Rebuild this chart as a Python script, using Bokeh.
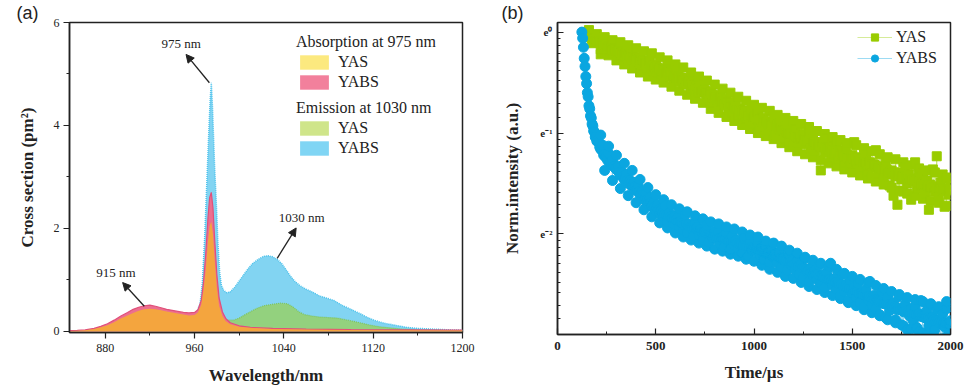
import numpy as np
from bokeh.plotting import figure
from bokeh.layouts import row
from bokeh.models import (Range1d, SingleIntervalTicker, FixedTicker, CustomJSTickFormatter,
                          Legend, LegendItem, Label, Arrow, NormalHead)
from bokeh.embed import file_html
from bokeh.resources import INLINE

SERIF = "Liberation Serif"
SANS = "Liberation Sans"
INK = "#222222"

# ---------------- panel (a): cross sections (pm^2) ----------------
abs_yabs_wl = [848, 855, 862, 870, 876, 882, 888, 894, 900, 905, 910, 915, 920, 925, 930, 935, 940, 945,
               950, 955, 960, 963, 966, 968, 970, 972, 973.5, 975, 976.5, 978, 980, 982, 985, 988, 992,
               1000, 1010, 1030, 1060, 1100, 1150, 1200]
abs_yabs = [0.015, 0.02, 0.03, 0.06, 0.10, 0.15, 0.22, 0.30, 0.37, 0.43, 0.47, 0.50, 0.51, 0.49, 0.46, 0.43,
            0.41, 0.39, 0.37, 0.36, 0.37, 0.42, 0.60, 0.95, 1.50, 2.20, 2.60, 2.70, 2.40, 1.80, 1.10, 0.65,
            0.38, 0.25, 0.17, 0.11, 0.08, 0.06, 0.045, 0.035, 0.03, 0.025]
abs_yas_wl = abs_yabs_wl
abs_yas = [0.01, 0.015, 0.025, 0.05, 0.08, 0.12, 0.18, 0.25, 0.31, 0.36, 0.40, 0.43, 0.44, 0.43, 0.41, 0.39,
           0.37, 0.35, 0.33, 0.31, 0.32, 0.37, 0.52, 0.80, 1.20, 1.75, 2.05, 2.13, 1.90, 1.40, 0.85, 0.50,
           0.30, 0.20, 0.14, 0.09, 0.07, 0.05, 0.04, 0.03, 0.025, 0.02]
em_yabs_wl = [918, 930, 940, 950, 958, 962, 965, 967, 969, 971, 973, 974, 975, 976, 977, 978, 979.5, 981,
              982.5, 984, 986, 989, 992, 996, 1000, 1004, 1008, 1012, 1017, 1022, 1026, 1030, 1034, 1038,
              1042, 1046, 1050, 1055, 1060, 1066, 1072, 1078, 1085, 1092, 1100, 1108, 1115, 1122, 1130,
              1140, 1150, 1160, 1170, 1180, 1190, 1200]
em_yabs = [0.03, 0.07, 0.11, 0.17, 0.26, 0.36, 0.55, 0.95, 1.80, 2.90, 4.00, 4.50, 4.83, 4.40, 3.80, 3.20,
           2.50, 1.70, 1.15, 0.90, 0.80, 0.75, 0.77, 0.86, 0.98, 1.10, 1.22, 1.32, 1.40, 1.46, 1.47, 1.45,
           1.40, 1.32, 1.20, 1.07, 0.97, 0.88, 0.82, 0.76, 0.69, 0.65, 0.60, 0.51, 0.43, 0.35, 0.27, 0.21,
           0.16, 0.12, 0.08, 0.06, 0.05, 0.04, 0.03, 0.025]
em_yas_wl = [918, 930, 940, 950, 958, 963, 966, 969, 972, 975, 978, 981, 985, 990, 995, 1000, 1008, 1015,
             1022, 1030, 1037, 1043, 1048, 1053, 1058, 1065, 1072, 1080, 1088, 1095, 1102, 1110, 1118, 1126,
             1135, 1145, 1160, 1180, 1200]
em_yas = [0.02, 0.05, 0.08, 0.12, 0.18, 0.26, 0.40, 0.70, 1.00, 1.10, 0.80, 0.45, 0.28, 0.22, 0.22, 0.26,
          0.36, 0.44, 0.50, 0.53, 0.55, 0.54, 0.48, 0.39, 0.33, 0.30, 0.28, 0.27, 0.26, 0.23, 0.20, 0.16,
          0.12, 0.09, 0.07, 0.05, 0.03, 0.02, 0.015]

# ---------------- panel (b): decay curves, ln(normalised intensity) ----------------
yas_t = list(range(150, 2001, 10))
yas_ln = [0.00, -0.03, -0.05, -0.04, -0.09, -0.07, -0.10, -0.22, -0.11, -0.13,
          -0.12, -0.17, -0.15, -0.19, -0.16, -0.21, -0.18, -0.23, -0.20, -0.24,
          -0.21, -0.26, -0.24, -0.22, -0.29, -0.25, -0.30, -0.27, -0.33, -0.28,
          -0.31, -0.36, -0.29, -0.35, -0.39, -0.33, -0.40, -0.36, -0.42, -0.37,
          -0.41, -0.36, -0.44, -0.40, -0.47, -0.43, -0.38, -0.49, -0.45, -0.51,
          -0.46, -0.52, -0.49, -0.56, -0.50, -0.58, -0.53, -0.60, -0.55, -0.52,
          -0.58, -0.63, -0.66, -0.59, -0.70, -0.62, -0.67, -0.73, -0.64, -0.69,
          -0.72, -0.66, -0.76, -0.71, -0.80, -0.74, -0.69, -0.83, -0.77, -0.81,
          -0.78, -0.86, -0.82, -0.88, -0.76, -0.91, -0.84, -0.80, -0.93, -0.87,
          -0.85, -0.94, -0.89, -0.98, -0.91, -0.84, -1.01, -0.95, -0.90, -1.03,
          -0.97, -1.05, -0.93, -1.08, -1.00, -1.12, -0.96, -1.04, -1.10, -1.01,
          -1.02, -1.11, -1.07, -0.99, -1.15, -1.06, -1.18, -1.09, -1.13, -1.37,
          -1.10, -1.19, -1.05, -1.16, -1.24, -1.12, -1.21, -1.08, -1.26, -1.17,
          -1.20, -1.29, -1.14, -1.25, -1.33, -1.22, -1.09, -1.30, -1.24, -1.36,
          -1.26, -1.34, -1.21, -1.38, -1.29, -1.44, -1.31, -1.17, -1.40, -1.33,
          -1.35, -1.45, -1.28, -1.41, -1.52, -1.37, -1.62, -1.43, -1.71, -1.39,
          -1.46, -1.58, -1.34, -1.50, -1.41, -1.66, -1.47, -1.29, -1.55, -1.44,
          -1.52, -1.40, -1.60, -1.47, -1.76, -1.54, -1.36, -1.58, -1.23, -1.63,
          -1.49, -1.57, -1.73, -1.45, -1.61, -1.53]
yas_t2 = list(range(155, 1996, 10))
yas_ln2 = [-0.04, -0.05, -0.07, -0.06, -0.09, -0.10, -0.09, -0.12, -0.13, -0.12,
           -0.15, -0.14, -0.17, -0.18, -0.17, -0.20, -0.19, -0.21, -0.23, -0.22,
           -0.24, -0.23, -0.26, -0.25, -0.27, -0.28, -0.27, -0.30, -0.29, -0.31,
           -0.32, -0.31, -0.34, -0.33, -0.36, -0.35, -0.37, -0.36, -0.39, -0.38,
           -0.40, -0.39, -0.42, -0.43, -0.42, -0.45, -0.44, -0.47, -0.46, -0.48,
           -0.50, -0.49, -0.52, -0.53, -0.52, -0.55, -0.56, -0.55, -0.58, -0.57,
           -0.60, -0.61, -0.63, -0.62, -0.65, -0.64, -0.67, -0.66, -0.69, -0.68,
           -0.71, -0.70, -0.73, -0.74, -0.73, -0.76, -0.77, -0.76, -0.79, -0.78,
           -0.81, -0.80, -0.83, -0.82, -0.85, -0.84, -0.86, -0.87, -0.86, -0.89,
           -0.90, -0.89, -0.92, -0.91, -0.93, -0.94, -0.93, -0.96, -0.95, -0.97,
           -0.98, -0.99, -1.00, -1.01, -1.00, -1.03, -1.02, -1.04, -1.05, -1.04,
           -1.06, -1.07, -1.08, -1.07, -1.10, -1.09, -1.11, -1.12, -1.11, -1.14,
           -1.14, -1.15, -1.16, -1.15, -1.18, -1.17, -1.19, -1.20, -1.19, -1.22,
           -1.22, -1.23, -1.22, -1.25, -1.24, -1.26, -1.25, -1.27, -1.28, -1.27,
           -1.29, -1.30, -1.29, -1.32, -1.31, -1.33, -1.32, -1.34, -1.35, -1.34,
           -1.36, -1.37, -1.36, -1.39, -1.38, -1.40, -1.39, -1.41, -1.42, -1.41,
           -1.43, -1.44, -1.43, -1.46, -1.45, -1.47, -1.46, -1.48, -1.49, -1.48,
           -1.50, -1.51, -1.50, -1.52, -1.51, -1.53, -1.54, -1.53, -1.55, -1.54,
           -1.55, -1.56, -1.55, -1.57, -1.56]
yas_t3 = list(range(160, 2001, 20))
yas_ln3 = [0.02, -0.11, -0.02, -0.17, -0.05, -0.23, -0.08, -0.28,
           -0.10, -0.32, -0.13, -0.36, -0.16, -0.40, -0.19, -0.44, -0.21, -0.47,
           -0.25, -0.50, -0.28, -0.54, -0.32, -0.58, -0.35, -0.62, -0.40, -0.66,
           -0.44, -0.70, -0.48, -0.76, -0.52, -0.80, -0.56, -0.84, -0.60, -0.88,
           -0.64, -0.92, -0.68, -0.96, -0.72, -1.00, -0.75, -1.03, -0.78, -1.06,
           -0.82, -1.10, -0.85, -1.14, -0.88, -1.18, -0.91, -1.21, -0.94, -1.24,
           -0.98, -1.27, -1.01, -1.30, -1.04, -1.33, -1.07, -1.36, -1.10, -1.39,
           -1.12, -1.42, -1.15, -1.45, -1.18, -1.48, -1.21, -1.51, -1.24, -1.54,
           -1.26, -1.57, -1.29, -1.60, -1.32, -1.62, -1.35, -1.65, -1.37, -1.67,
           -1.39, -1.69, -1.41, -1.72, -1.44]
yabs_t = list(range(124, 201, 4)) + list(range(210, 2001, 10))
yabs_ln = [0.00, -0.06, -0.15, -0.26, -0.34, -0.44, -0.51, -0.60, -0.64, -0.73,
           -0.76, -0.83, -0.85, -0.91, -0.93, -0.98, -0.99, -1.04, -1.04, -1.08,
           -1.09, -1.16, -1.12, -1.21, -1.23, -1.20, -1.29, -1.27, -1.33, -1.35,
           -1.33, -1.42, -1.39, -1.46, -1.41, -1.50, -1.47, -1.53, -1.49, -1.57,
           -1.52, -1.61, -1.58, -1.66, -1.60, -1.70, -1.64, -1.73, -1.69, -1.77,
           -1.71, -1.80, -1.76, -1.83, -1.72, -1.88, -1.79, -1.85, -1.90, -1.82,
           -1.84, -1.93, -1.87, -1.96, -1.81, -1.99, -1.90, -1.94, -2.02, -1.89,
           -1.93, -2.01, -1.95, -2.06, -1.98, -1.91, -2.08, -2.00, -2.04, -1.97,
           -2.05, -1.98, -2.10, -2.03, -2.13, -1.99, -2.07, -2.15, -2.02, -2.11,
           -2.06, -2.14, -2.09, -2.19, -2.04, -2.12, -2.22, -2.08, -2.16, -2.13,
           -2.17, -2.10, -2.21, -2.14, -2.25, -2.12, -2.19, -2.28, -2.16, -2.23,
           -2.20, -2.29, -2.18, -2.33, -2.24, -2.27, -2.36, -2.21, -2.31, -2.26,
           -2.35, -2.27, -2.40, -2.30, -2.44, -2.24, -2.37, -2.47, -2.33, -2.41,
           -2.36, -2.45, -2.31, -2.49, -2.41, -2.53, -2.38, -2.46, -2.29, -2.51,
           -2.44, -2.55, -2.48, -2.61, -2.40, -2.57, -2.50, -2.66, -2.46, -2.59,
           -2.53, -2.63, -2.49, -2.68, -2.58, -2.72, -2.55, -2.65, -2.47, -2.70,
           -2.61, -2.74, -2.66, -2.80, -2.57, -2.69, -2.83, -2.63, -2.76, -2.71,
           -2.68, -2.85, -2.75, -2.62, -2.90, -2.77, -2.70, -2.95, -2.81, -2.74,
           -2.86, -2.72, -2.93, -2.79, -2.66, -2.98, -2.83, -2.76, -2.91, -2.69,
           -2.82, -2.95, -2.74, -2.88, -3.05, -2.79, -2.92, -2.67, -2.99, -2.86]
yabs_t2 = list(range(215, 1996, 10))
yabs_ln2 = [-1.14, -1.17, -1.22, -1.24, -1.27, -1.29, -1.31, -1.33, -1.35,
            -1.37, -1.39, -1.41, -1.43, -1.44, -1.47, -1.48, -1.49, -1.52, -1.53,
            -1.56, -1.58, -1.60, -1.61, -1.64, -1.66, -1.68, -1.69, -1.71, -1.73,
            -1.74, -1.76, -1.77, -1.79, -1.80, -1.81, -1.82, -1.83, -1.85, -1.85,
            -1.86, -1.88, -1.88, -1.89, -1.91, -1.90, -1.92, -1.93, -1.94, -1.94,
            -1.95, -1.97, -1.97, -1.98, -1.98, -1.99, -2.00, -2.00, -2.01, -2.02,
            -2.02, -2.03, -2.04, -2.04, -2.05, -2.05, -2.06, -2.07, -2.07, -2.08,
            -2.08, -2.09, -2.10, -2.10, -2.11, -2.11, -2.12, -2.13, -2.13, -2.14,
            -2.14, -2.15, -2.16, -2.17, -2.17, -2.18, -2.19, -2.19, -2.20, -2.21,
            -2.22, -2.23, -2.23, -2.24, -2.25, -2.26, -2.26, -2.27, -2.28, -2.29,
            -2.30, -2.31, -2.32, -2.32, -2.34, -2.34, -2.35, -2.36, -2.37, -2.38,
            -2.39, -2.40, -2.40, -2.42, -2.42, -2.43, -2.44, -2.45, -2.45, -2.46,
            -2.47, -2.48, -2.49, -2.50, -2.50, -2.52, -2.52, -2.53, -2.54, -2.55,
            -2.56, -2.57, -2.57, -2.59, -2.59, -2.60, -2.61, -2.62, -2.62, -2.63,
            -2.64, -2.65, -2.65, -2.67, -2.67, -2.68, -2.69, -2.69, -2.70, -2.71,
            -2.72, -2.72, -2.73, -2.74, -2.75, -2.75, -2.76, -2.76, -2.77, -2.78,
            -2.79, -2.79, -2.80, -2.80, -2.81, -2.82, -2.82, -2.83, -2.83, -2.84,
            -2.85, -2.85, -2.86, -2.86, -2.87, -2.87, -2.88, -2.88, -2.89, -2.89]
yabs_t3 = list(range(220, 2001, 20))
yabs_ln3 = [-1.02, -1.37, -1.13, -1.47, -1.22, -1.55, -1.30, -1.62, -1.37, -1.69,
            -1.46, -1.76, -1.54, -1.83, -1.61, -1.89, -1.66, -1.94, -1.71, -1.99,
            -1.75, -2.03, -1.78, -2.06, -1.82, -2.09, -1.85, -2.12, -1.88, -2.15,
            -1.90, -2.17, -1.93, -2.20, -1.95, -2.22, -1.98, -2.25, -2.01, -2.27,
            -2.03, -2.31, -2.07, -2.35, -2.09, -2.38, -2.12, -2.42, -2.16, -2.44,
            -2.19, -2.48, -2.23, -2.52, -2.26, -2.55, -2.29, -2.58, -2.32, -2.61,
            -2.35, -2.64, -2.39, -2.68, -2.42, -2.71, -2.45, -2.75, -2.48, -2.78,
            -2.51, -2.81, -2.54, -2.85, -2.57, -2.88, -2.60, -2.91, -2.63, -2.94,
            -2.65, -2.97, -2.67, -3.00, -2.70, -3.02, -2.72, -3.04, -2.74, -3.06]

C_BLUE_A = "#82D4F2"
C_GREEN_A = "#A3CD1F"
C_PINK_A = "#EC6E8F"
C_ORANGE_A = "#F4A83A"
LEG_YELLOW, LEG_PINK, LEG_GREEN, LEG_BLUE = "#FCE97F", "#F2809C", "#CFE58A", "#80D5F4"
C_GREEN_B = "#99CC00"
C_BLUE_B = "#0AA6E0"


def style_axes(p, bold_ticks, inside):
    for ax in (p.xaxis[0], p.yaxis[0]):
        ax.axis_line_color = INK
        ax.axis_line_width = 1.5
        ax.major_tick_line_color = INK
        ax.minor_tick_line_color = INK
        ax.major_tick_line_width = 1.2
        ax.minor_tick_line_width = 1.0
        if inside:
            ax.major_tick_in, ax.major_tick_out = 6, 0
            ax.minor_tick_in, ax.minor_tick_out = 3, 0
        else:
            ax.major_tick_in, ax.major_tick_out = 0, 6
            ax.minor_tick_in, ax.minor_tick_out = 0, 3
        ax.major_label_text_font = SERIF
        ax.major_label_text_font_size = "13px"
        ax.major_label_text_font_style = "bold" if bold_ticks else "normal"
        ax.major_label_text_color = INK
        ax.axis_label_text_font = SERIF
        ax.axis_label_text_font_size = "17px"
        ax.axis_label_text_font_style = "bold"
        ax.axis_label_text_color = INK
    p.grid.visible = False
    p.outline_line_color = INK
    p.outline_line_width = 1.5
    p.outline_line_alpha = 1.0


def style_title(p, offset):
    p.title.align = "left"
    p.title.offset = offset
    p.title.standoff = 0
    p.title.text_font = SANS
    p.title.text_font_size = "18px"
    p.title.text_font_style = "normal"
    p.title.text_color = INK


# ---------------- figure (a) ----------------
pa = figure(frame_width=393, frame_height=310, min_border_left=69, min_border_right=18,
            min_border_top=22, min_border_bottom=50, x_range=Range1d(848, 1200),
            y_range=Range1d(-0.02, 6), output_backend="svg", toolbar_location=None,
            title="(a)")
style_title(pa, -53)
style_axes(pa, False, False)
pa.xaxis.ticker = SingleIntervalTicker(interval=80, num_minor_ticks=2)
pa.yaxis.ticker = SingleIntervalTicker(interval=2, num_minor_ticks=2)
pa.xaxis.axis_label = "Wavelength/nm"
pa.yaxis.axis_label = "Cross section (pm\u00b2)"
pa.xaxis.major_label_standoff = 5
pa.yaxis.major_label_standoff = 4
pa.xaxis.axis_label_standoff = 11
pa.yaxis.axis_label_standoff = 14
pa.xaxis.major_label_text_font_size = "12px"
pa.yaxis.major_label_text_font_size = "12px"

pa.varea(x=em_yabs_wl, y1=0, y2=em_yabs, fill_color=C_BLUE_A)
pa.line(em_yabs_wl, em_yabs, line_color="#4CC2EC", line_width=1.5, line_dash="1 1")
pa.varea(x=em_yas_wl, y1=0, y2=em_yas, fill_color=C_GREEN_A, fill_alpha=0.55)
pa.line(em_yas_wl, em_yas, line_color="#7CC046", line_width=1.2, line_dash="1 1", line_alpha=0.8)
pa.varea(x=abs_yabs_wl, y1=0, y2=abs_yabs, fill_color=C_PINK_A)
pa.line(abs_yabs_wl, abs_yabs, line_color="#E0507A", line_width=1.2)
pa.varea(x=abs_yas_wl, y1=0, y2=abs_yas, fill_color=C_ORANGE_A, fill_alpha=0.95)

# legend-only swatches (one NaN point each, so nothing is drawn in the frame)
sw_y = pa.varea(x=[np.nan], y1=[np.nan], y2=[np.nan], fill_color=LEG_YELLOW)
sw_p = pa.varea(x=[np.nan], y1=[np.nan], y2=[np.nan], fill_color=LEG_PINK)
sw_g = pa.varea(x=[np.nan], y1=[np.nan], y2=[np.nan], fill_color=LEG_GREEN)
sw_b = pa.varea(x=[np.nan], y1=[np.nan], y2=[np.nan], fill_color=LEG_BLUE)


def make_legend(title, items, loc):
    lg = Legend(items=items, location=loc, title=title, orientation="vertical")
    lg.title_text_font = SERIF
    lg.title_text_font_size = "16px"
    lg.title_text_font_style = "normal"
    lg.title_text_color = INK
    lg.title_standoff = 2
    lg.label_text_font = SERIF
    lg.label_text_font_size = "16px"
    lg.label_text_color = INK
    lg.glyph_width = 36
    lg.glyph_height = 18
    lg.label_height = 18
    lg.label_standoff = 6
    lg.spacing = 2
    lg.padding = 0
    lg.margin = 0
    lg.border_line_alpha = 0
    lg.background_fill_alpha = 0
    return lg


pa.add_layout(make_legend("Absorption at 975 nm",
                          [LegendItem(label="YAS", renderers=[sw_y]),
                           LegendItem(label="YABS", renderers=[sw_p])], (227, 241)))
pa.add_layout(make_legend("Emission at 1030 nm",
                          [LegendItem(label="YAS", renderers=[sw_g]),
                           LegendItem(label="YABS", renderers=[sw_b])], (227, 175)))

for txt, tx, ty, x0, y0, x1, y1 in [("975 nm", 948, 5.59, 973.3, 4.83, 952.4, 5.38),
                                      ("1030 nm", 1056, 2.22, 1034, 1.42, 1051, 2.01),
                                      ("915 nm", 889.6, 1.14, 915, 0.49, 895.6, 0.95)]:
    pa.add_layout(Label(x=tx, y=ty, text=txt, text_align="center", text_baseline="middle",
                        text_font=SERIF, text_font_size="13px", text_color=INK))
    pa.add_layout(Arrow(x_start=x0, y_start=y0, x_end=x1, y_end=y1, line_width=1.3, line_color=INK,
                        end=NormalHead(size=8, fill_color=INK, line_color=INK)))

# ---------------- figure (b) ----------------
pb = figure(frame_width=393, frame_height=312, min_border_left=77, min_border_right=17,
            min_border_top=22, min_border_bottom=48, x_range=Range1d(0, 2000),
            y_range=Range1d(0.05, 1.1), y_axis_type="log", output_backend="svg",
            toolbar_location=None, title="(b)")
style_title(pb, -56)
style_axes(pb, True, True)
pb.xaxis.ticker = SingleIntervalTicker(interval=500, num_minor_ticks=2)
majors = [float(np.exp(k)) for k in (-2, -1, 0)]
minors = []
for k in (-3, -2, -1):
    lo, hi = np.exp(k), np.exp(k + 1)
    minors += [float(lo + i * (hi - lo) / 10) for i in range(1, 10)]
pb.yaxis.ticker = FixedTicker(ticks=majors, minor_ticks=minors)
pb.yaxis.formatter = CustomJSTickFormatter(code="""
const k = Math.round(Math.log(tick));
if (k === 0) { return 'e\u2070'; }
const sup = {'1': '\u00b9', '2': '\u00b2', '3': '\u00b3'};
return 'e\u207b' + sup[String(-k)];
""")
pb.yaxis.major_label_text_font_size = "11px"
pb.xaxis.axis_label = "Time/\u00b5s"
pb.yaxis.axis_label = "Norm.intensity (a.u.)"
pb.xaxis.major_label_standoff = 7
pb.yaxis.major_label_standoff = 5
pb.xaxis.axis_label_standoff = 10
pb.yaxis.axis_label_standoff = 15


def merged(*parts):
    ts, vs = [], []
    for t, v in zip(parts[0::2], parts[1::2]):
        ts += list(t)
        vs += list(v)
    pairs = sorted(zip(ts, vs))
    return [a for a, _ in pairs], np.exp(np.array([b for _, b in pairs]))


g_t, g_I = merged(yas_t, yas_ln, yas_t2, yas_ln2, yas_t3, yas_ln3)
b_t, b_I = merged(yabs_t, yabs_ln, yabs_t2, yabs_ln2, yabs_t3, yabs_ln3)
gl = pb.line(g_t, g_I, line_color=C_GREEN_B, line_width=0.5, line_alpha=0.8)
gs = pb.scatter(g_t, g_I, marker="square", size=9, fill_color=C_GREEN_B, line_color=C_GREEN_B)
bl = pb.line(b_t, b_I, line_color=C_BLUE_B, line_width=0.5, line_alpha=0.8)
bs = pb.scatter(b_t, b_I, marker="circle", size=10, fill_color=C_BLUE_B, line_color=C_BLUE_B)

lgb = Legend(items=[LegendItem(label="YAS", renderers=[gl, gs]),
                    LegendItem(label="YABS", renderers=[bl, bs])], location=(300, 267))
lgb.label_text_font = SERIF
lgb.label_text_font_size = "16px"
lgb.label_text_color = INK
lgb.glyph_width = 35
lgb.glyph_height = 18
lgb.label_height = 18
lgb.label_standoff = 4
lgb.spacing = 3
lgb.padding = 0
lgb.margin = 0
lgb.border_line_alpha = 0
lgb.background_fill_alpha = 0
pb.add_layout(lgb)

layout = row(pa, pb)
open("out.html", "w").write(file_html(layout, INLINE))
